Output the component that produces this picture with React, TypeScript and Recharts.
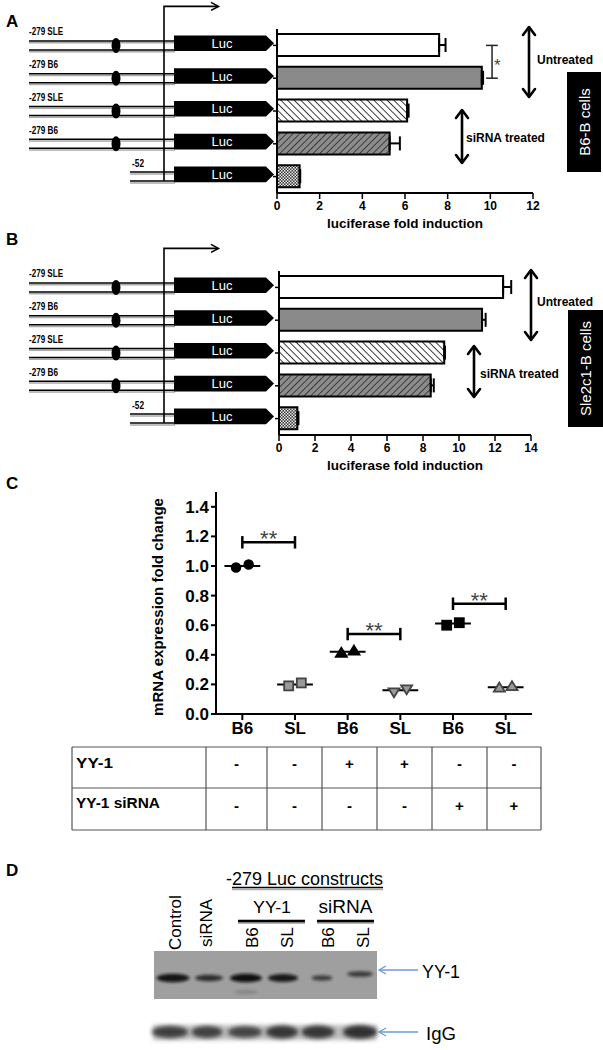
import React from 'react';
import {
  BarChart, Bar, XAxis, YAxis, Cell, ErrorBar, ReferenceLine, Label,
  ScatterChart, Scatter,
} from 'recharts';

const FONT = '"Liberation Sans", Arial, sans-serif';

// constructs (rows of panels A and B)
const rowIds = ['sle', 'b6', 'sleSi', 'b6Si', 'p52'];
const rowLabels = ['-279 SLE', '-279 B6', '-279 SLE', '-279 B6', '-52'];

// panel A: B6-B cells
const b6Fold = [7.6, 9.6, 6.1, 5.28, 1.06];
const b6Err = [0.3, 0.06, 0.07, 0.48, 0.03];
const ticksA = [0, 2, 4, 6, 8, 10, 12];

// panel B: Sle2c1-B cells
const sleFold = [12.45, 11.28, 9.18, 8.43, 1.02];
const sleErr = [0.45, 0.2, 0.04, 0.17, 0.06];
const ticksB = [0, 2, 4, 6, 8, 10, 12, 14];

// panel C
const groupLabels = ['B6', 'SL', 'B6', 'SL', 'B6', 'SL'];
const mrnaValues = [[0.99, 1.01], [0.19, 0.21], [0.41, 0.425], [0.15, 0.17], [0.6, 0.617], [0.175, 0.185]];
const mrnaMeans = [1.0, 0.2, 0.42, 0.16, 0.612, 0.18];
const mrnaTicks = [0, 0.2, 0.4, 0.6, 0.8, 1.0, 1.2, 1.4];
const sigPairs = [[0, 1, 1.16], [2, 3, 0.54], [4, 5, 0.745]];
const yy1Row = ['-', '-', '+', '+', '-', '-'];
const siRow = ['-', '-', '-', '-', '+', '+'];

// panel D
const laneLabels = ['Control', 'siRNA', 'B6', 'SL', 'B6', 'SL'];
const yy1Signal = [0.9, 0.6, 0.95, 0.85, 0.4, 0.45];
const iggSignal = [0.75, 0.72, 0.68, 0.85, 0.85, 0.92];

const markerKinds = ['circle', 'square', 'tri', 'itri', 'square', 'tri'];
const markerFilled = [true, false, true, false, true, false];

function Patterns({ p }: { p: string }) {
  return (
    <defs>
      <pattern id={`${p}h1`} width="4.7" height="4.7" patternUnits="userSpaceOnUse" patternTransform="rotate(-45)">
        <rect width="4.7" height="4.7" fill="#fff" />
        <line x1="0" y1="0" x2="0" y2="4.7" stroke="#000" strokeWidth="1.5" />
      </pattern>
      <pattern id={`${p}h2`} width="4.7" height="4.7" patternUnits="userSpaceOnUse" patternTransform="rotate(45)">
        <rect width="4.7" height="4.7" fill="#8c8c8c" />
        <line x1="0" y1="0" x2="0" y2="4.7" stroke="#222" strokeWidth="1.5" />
      </pattern>
      <pattern id={`${p}ck`} width="3" height="3" patternUnits="userSpaceOnUse">
        <rect width="3" height="3" fill="#333" />
        <rect width="1.5" height="1.5" fill="#eee" />
        <rect x="1.5" y="1.5" width="1.5" height="1.5" fill="#eee" />
      </pattern>
    </defs>
  );
}

function FoldChart({ p, values, errs, ticks, top, height, mTop, yw, mRight, star }: any) {
  const data = rowIds.map((id, i) => ({ id, v: values[i], err: [0, errs[i]] }));
  const fills = ['#fff', '#8a8a8a', `url(#${p}h1)`, `url(#${p}h2)`, `url(#${p}ck)`];
  const tick = { fontSize: 12, fontWeight: 'bold', fill: '#000' };
  return (
    <div style={{ position: 'absolute', left: 200, top }}>
      <BarChart width={340} height={height} data={data} layout="vertical"
        margin={{ top: mTop, right: mRight, bottom: 12, left: 0 }}>
        <Patterns p={p} />
        <XAxis type="number" domain={[0, ticks[ticks.length - 1]]} ticks={ticks} height={35}
          tick={tick} tickSize={6} axisLine={{ stroke: '#000', strokeWidth: 2 }}
          tickLine={{ stroke: '#000', strokeWidth: 1.5 }}>
          <Label value="luciferase fold induction" position="insideBottom" offset={0}
            style={{ fontSize: 13.5, fontWeight: 'bold', fill: '#000' }} />
        </XAxis>
        <YAxis type="category" dataKey="id" width={yw} tickFormatter={() => ''} tickSize={4}
          axisLine={{ stroke: '#000', strokeWidth: 2 }} tickLine={{ stroke: '#000', strokeWidth: 1.5 }} />
        <Bar dataKey="v" barSize={22} stroke="#000" strokeWidth={2} isAnimationActive={false}>
          {data.map((d, i) => <Cell key={d.id} fill={fills[i]} />)}
          <ErrorBar dataKey="err" direction="x" width={7} stroke="#000" strokeWidth={2} />
        </Bar>
        {star && (
          <ReferenceLine segment={[{ x: 10.08, y: 'sle' }, { x: 10.08, y: 'b6' }]} stroke="#222" strokeWidth={1.5} />
        )}
        {star && (
          <ReferenceLine segment={[{ x: 9.8, y: 'sle' }, { x: 10.35, y: 'sle' }]} stroke="#222" strokeWidth={1.5} />
        )}
        {star && (
          <ReferenceLine segment={[{ x: 9.8, y: 'b6' }, { x: 10.35, y: 'b6' }]} stroke="#222" strokeWidth={1.5} />
        )}
      </BarChart>
    </div>
  );
}

const markerShape = (kind: string, filled: boolean) => (props: any) => {
  const { cx, cy } = props;
  if (cx == null || cy == null) return <g />;
  const fill = filled ? '#000' : '#9a9a9a';
  const stroke = filled ? '#000' : '#444';
  const s = 4.5;
  if (kind === 'circle') return <circle cx={cx} cy={cy} r={s} fill={fill} stroke={stroke} strokeWidth={1.5} />;
  if (kind === 'square') return <rect x={cx - s} y={cy - s} width={2 * s} height={2 * s} fill={fill} stroke={stroke} strokeWidth={1.8} />;
  if (kind === 'tri') return <polygon points={`${cx},${cy - s - 1} ${cx + s + 1},${cy + s - 1} ${cx - s - 1},${cy + s - 1}`} fill={fill} stroke={stroke} strokeWidth={1.8} />;
  return <polygon points={`${cx},${cy + s + 1} ${cx + s + 1},${cy - s + 1} ${cx - s - 1},${cy - s + 1}`} fill={fill} stroke={stroke} strokeWidth={1.8} />;
};

const starShape = (props: any) => {
  const { cx, cy } = props;
  if (cx == null || cy == null) return <g />;
  return <text x={cx} y={cy + 4} textAnchor="middle" fontSize={22} fill="#444">**</text>;
};

function MrnaChart() {
  const tick = { fontSize: 17, fontWeight: 'bold', fill: '#000' };
  const stars = sigPairs.map(([a, b, y]) => ({ x: (a + b) / 2 + 0.5, y }));
  return (
    <div style={{ position: 'absolute', left: 140, top: 480 }}>
      <ScatterChart width={400} height={280} margin={{ top: 12, right: 8, bottom: 16, left: 0 }}>
        <XAxis type="number" dataKey="x" domain={[0, 6]} ticks={[0.5, 1.5, 2.5, 3.5, 4.5, 5.5]}
          tickFormatter={(v: number) => groupLabels[Math.floor(v)]} height={30} tick={tick} tickSize={6}
          axisLine={{ stroke: '#000', strokeWidth: 2 }} tickLine={{ stroke: '#000', strokeWidth: 2 }} />
        <YAxis type="number" dataKey="y" domain={[0, 1.5]} ticks={mrnaTicks} width={76}
          tickFormatter={(v: number) => v.toFixed(1)} tick={tick} tickSize={5}
          axisLine={{ stroke: '#000', strokeWidth: 2 }} tickLine={{ stroke: '#000', strokeWidth: 2 }} />
        {mrnaMeans.map((m, g) => (
          <ReferenceLine key={`m${g}`} segment={[{ x: g + 0.16, y: m }, { x: g + 0.84, y: m }]} stroke="#000" strokeWidth={2} />
        ))}
        {sigPairs.map(([a, b, y], k) => (
          <ReferenceLine key={`s${k}`} segment={[{ x: a + 0.5, y }, { x: b + 0.5, y }]} stroke="#000" strokeWidth={2.5} />
        ))}
        {sigPairs.flatMap(([a, b, y], k) => [a, b].map((g) => (
          <ReferenceLine key={`c${k}${g}`} segment={[{ x: g + 0.5, y: y - 0.042 }, { x: g + 0.5, y: y + 0.042 }]} stroke="#000" strokeWidth={2.5} />
        )))}
        {mrnaValues.map((vals, g) => (
          <Scatter key={`g${g}`} data={vals.map((v, j) => ({ x: g + 0.5 + (j === 0 ? -0.12 : 0.12), y: v }))}
            shape={markerShape(markerKinds[g], markerFilled[g])} isAnimationActive={false} />
        ))}
        <Scatter data={stars} shape={starShape} isAnimationActive={false} />
      </ScatterChart>
    </div>
  );
}

function Constructs({ rows }: { rows: number[] }) {
  const top = rows[0] - 39;
  return (
    <g>
      {rows.map((y, i) => {
        const x0 = i === 4 ? 130 : 29;
        const lens = [34, 29, 34, 29, 12];
        return (
          <g key={i}>
            <text x={i === 4 ? 132 : 29} y={y - 10} fontSize={10} fontWeight="bold" textLength={lens[i]}
              lengthAdjust="spacingAndGlyphs">{rowLabels[i]}</text>
            {[y - 4.5, y + 4.5].map((ly, k) => (
              <g key={k}>
                <line x1={x0} x2={175} y1={ly + 1.8} y2={ly + 1.8} stroke="#aaa" strokeWidth={1.5} />
                <line x1={x0} x2={175} y1={ly} y2={ly} stroke="#000" strokeWidth={1.5} />
              </g>
            ))}
            {i < 4 && <ellipse cx={116} cy={y} rx={4.5} ry={7.5} fill="#000" />}
            <polygon points={`174,${y - 10} 266,${y - 10} 274,${y - 2.2} 266,${y + 5.6} 174,${y + 5.6}`} fill="#000" />
            <text x={222} y={y - 2.2} fill="#fff" fontSize={13} textAnchor="middle" dominantBaseline="central">Luc</text>
          </g>
        );
      })}
      <path d={`M164 ${rows[4] + 4.5} V${top} H218`} stroke="#000" strokeWidth={1.6} fill="none" />
      <path d={`M211 ${top - 4} L218.5 ${top} L211 ${top + 4}`} stroke="#000" strokeWidth={1.6} fill="none" />
    </g>
  );
}

function DoubleArrow({ x, y1, y2 }: { x: number; y1: number; y2: number }) {
  return (
    <g stroke="#000" strokeWidth={2.6} fill="none" strokeLinecap="round" strokeLinejoin="round">
      <line x1={x} x2={x} y1={y1 + 1} y2={y2 - 1} />
      <polyline points={`${x - 6},${y1 + 8} ${x},${y1} ${x + 6},${y1 + 8}`} />
      <polyline points={`${x - 6},${y2 - 8} ${x},${y2} ${x + 6},${y2 - 8}`} />
    </g>
  );
}

function CellBox({ x, y, w, h, text }: any) {
  return (
    <g>
      <rect x={x} y={y} width={w} height={h} fill="#000" />
      <text x={x + w / 2} y={y + h / 2} transform={`rotate(-90 ${x + w / 2} ${y + h / 2})`} fill="#fff"
        fontSize={15} textAnchor="middle" dominantBaseline="central">{text}</text>
    </g>
  );
}

function Table() {
  const cols = [72, 206, 267, 322, 377, 432, 487, 541];
  const rowsY = [747, 788, 830];
  return (
    <g>
      {rowsY.map((y) => <line key={y} x1={72} x2={541} y1={y} y2={y} stroke="#555" strokeWidth={1.2} />)}
      {cols.map((x) => <line key={x} x1={x} x2={x} y1={747} y2={830} stroke="#555" strokeWidth={1.2} />)}
      <text x={76} y={763} fontSize={14} fontWeight="bold" dominantBaseline="central" textLength={37} lengthAdjust="spacingAndGlyphs">YY-1</text>
      <text x={76} y={803} fontSize={14} fontWeight="bold" dominantBaseline="central" textLength={84} lengthAdjust="spacingAndGlyphs">YY-1 siRNA</text>
      {yy1Row.map((s, i) => (
        <text key={`a${i}`} x={(cols[i + 1] + cols[i + 2]) / 2} y={763} fontSize={15} fontWeight="bold"
          textAnchor="middle" dominantBaseline="central">{s}</text>
      ))}
      {siRow.map((s, i) => (
        <text key={`b${i}`} x={(cols[i + 1] + cols[i + 2]) / 2} y={805} fontSize={15} fontWeight="bold"
          textAnchor="middle" dominantBaseline="central">{s}</text>
      ))}
    </g>
  );
}

function Blot() {
  const laneX = [175, 206, 252, 287, 328, 363];
  const yyX = [173, 209, 246, 283, 322, 360];
  const yyW = [33, 28, 32, 30, 21, 26];
  const igX = [170, 207, 245, 282, 318, 360];
  const igW = [36, 31, 34, 32, 33, 34];
  const laneBottom = [950, 947, 948, 948, 948, 948];
  return (
    <g>
      <defs>
        <filter id="bl1" x="-50%" y="-100%" width="200%" height="300%"><feGaussianBlur stdDeviation="1.4" /></filter>
        <filter id="bl2" x="-50%" y="-100%" width="200%" height="300%"><feGaussianBlur stdDeviation="2.2" /></filter>
      </defs>
      <text x={226} y={885} fontSize={18} textLength={157} lengthAdjust="spacingAndGlyphs">-279 Luc constructs</text>
      <line x1={232} x2={383} y1={889.5} y2={889.5} stroke="#aaa" strokeWidth={1.5} />
      <line x1={232} x2={383} y1={887.5} y2={887.5} stroke="#000" strokeWidth={1.5} />
      <text x={272} y={913} fontSize={17} textAnchor="middle" textLength={38} lengthAdjust="spacingAndGlyphs">YY-1</text>
      <text x={345.5} y={913} fontSize={18} textAnchor="middle" textLength={54} lengthAdjust="spacingAndGlyphs">siRNA</text>
      {[[238, 305], [317, 374]].map(([a, b]) => (
        <g key={a}>
          <line x1={a} x2={b} y1={923} y2={923} stroke="#999" strokeWidth={1.5} />
          <line x1={a} x2={b} y1={921} y2={921} stroke="#000" strokeWidth={2.5} />
        </g>
      ))}
      {laneLabels.map((t, i) => (
        <text key={i} x={laneX[i]} y={laneBottom[i]} fontSize={17} dominantBaseline="central"
          transform={`rotate(-90 ${laneX[i]} ${laneBottom[i]})`}>{t}</text>
      ))}
      <rect x={154} y={951} width={223} height={48} fill="#9f9f9f" />
      <ellipse cx={246} cy={992} rx={12} ry={2} fill="#555" opacity={0.35} filter="url(#bl1)" />
      {yy1Signal.map((s, i) => (
        <ellipse key={i} cx={yyX[i]} cy={i === 5 ? 974 : 978} rx={yyW[i] / 2} ry={1.5 + 3 * s}
          fill="#111" opacity={0.45 + 0.55 * s} filter="url(#bl1)" />
      ))}
      <rect x={153} y={1025} width={224} height={15} fill="#bdbdbd" filter="url(#bl2)" />
      {iggSignal.map((s, i) => (
        <ellipse key={i} cx={igX[i]} cy={1032} rx={igW[i] / 2} ry={3 + 4 * s}
          fill="#2a2a2a" opacity={0.45 + 0.55 * s} filter="url(#bl2)" />
      ))}
      {[[970, 'YY-1', 38], [1032, 'IgG', 30]].map(([y, t, len]: any) => (
        <g key={t}>
          <line x1={379} x2={418} y1={y} y2={y} stroke="#6b9bd2" strokeWidth={1.3} />
          <polyline points={`386,${y - 4} 379,${y} 386,${y + 4}`} stroke="#6b9bd2" strokeWidth={1.3} fill="none" />
          <text x={t === 'IgG' ? 426 : 422} y={y + 1} fontSize={19} dominantBaseline="central" textLength={len}
            lengthAdjust="spacingAndGlyphs">{t}</text>
        </g>
      ))}
    </g>
  );
}

export default function App() {
  const band = 32.8;
  const rowsA = rowIds.map((_, i) => 29 + band * (i + 0.5));
  const rowsB = rowIds.map((_, i) => 271 + band * (i + 0.5));
  return (
    <div style={{ position: 'absolute', left: 0, top: 0, width: 603, height: 1050, background: '#fff', fontFamily: FONT, overflow: 'hidden' }}>
      <FoldChart p="a" values={b6Fold} errs={b6Err} ticks={ticksA} top={20} height={220} mTop={9} yw={77} mRight={7} star />
      <FoldChart p="b" values={sleFold} errs={sleErr} ticks={ticksB} top={260} height={222} mTop={11} yw={79} mRight={9} />
      <MrnaChart />
      <svg width={603} height={1050} style={{ position: 'absolute', left: 0, top: 0, pointerEvents: 'none' }} fontFamily={FONT}>
        <g fontSize={17} fontWeight="bold">
          <text x={6} y={27}>A</text>
          <text x={6} y={245}>B</text>
          <text x={6} y={489}>C</text>
          <text x={6} y={876}>D</text>
        </g>
        <Constructs rows={rowsA} />
        <Constructs rows={rowsB} />
        <text x={494} y={71} fontSize={17} fill="#444">*</text>
        <DoubleArrow x={529} y1={27} y2={97} />
        <DoubleArrow x={462} y1={110} y2={163} />
        <DoubleArrow x={531} y1={270} y2={340} />
        <DoubleArrow x={474} y1={346} y2={397} />
        <g fontSize={12} fontWeight="bold" dominantBaseline="central">
          <text x={537} y={60}>Untreated</text>
          <text x={466} y={138}>siRNA treated</text>
          <text x={537} y={302}>Untreated</text>
          <text x={480} y={374}>siRNA treated</text>
        </g>
        <CellBox x={567} y={72} w={34} h={100} text="B6-B cells" />
        <CellBox x={568} y={310} w={35} h={117} text="Sle2c1-B cells" />
        <text x={158} y={607} fontSize={14} fontWeight="bold" textAnchor="middle" dominantBaseline="central"
          transform="rotate(-90 158 607)" textLength={218} lengthAdjust="spacingAndGlyphs">mRNA expression fold change</text>
        <Table />
        <Blot />
      </svg>
    </div>
  );
}
